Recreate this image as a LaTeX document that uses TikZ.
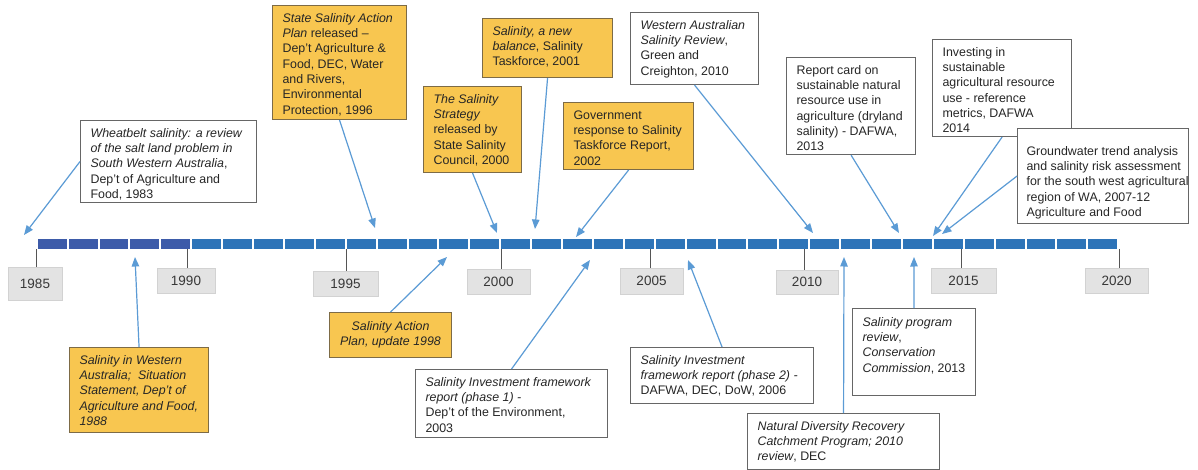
\documentclass[tikz,border=0pt]{standalone}
\usepackage{fontspec}
\setmainfont{Liberation Sans}
\usetikzlibrary{arrows.meta}
\definecolor{ybox}{HTML}{F8C650}
\definecolor{yline}{HTML}{7D6B46}
\definecolor{wline}{HTML}{666666}
\definecolor{txt}{HTML}{262626}
\definecolor{arrc}{HTML}{5B9BD5}
\definecolor{segdark}{HTML}{3D5BA9}
\definecolor{seglight}{HTML}{2E74B8}
\definecolor{yrfill}{HTML}{E3E3E3}
\definecolor{yrline}{HTML}{D2D2D2}
\definecolor{tickc}{HTML}{555555}
\newcommand\bxt[5]{\begin{minipage}[c][#2pt][t]{#1pt}\vspace*{#3pt}\hspace*{#4pt}\begin{tabular}[t]{@{}l@{}}#5\end{tabular}\end{minipage}}
\begin{document}
\begin{tikzpicture}[x=1pt,y=-1pt,
  font=\fontsize{12.4}{15.3}\selectfont,
  base/.style={draw, line width=1.1pt, inner sep=0pt, anchor=north west, text=txt},
  ybx/.style={base, fill=ybox, draw=yline},
  wbx/.style={base, fill=white, draw=wline},
  arr/.style={draw=arrc, line width=1.2pt, -{Triangle[length=9.5pt,width=7.5pt]}},
  yr/.style={fill=yrfill, draw=yrline, line width=0.6pt, text=black!78, font=\fontsize{13.5}{16}\selectfont, inner sep=0pt},
  tk/.style={draw=tickc, line width=0.9pt}]
\useasboundingbox (0,0) rectangle (1198,470);
\fill[white] (0,0) rectangle (1198,470);

% timeline segments
\foreach \i in {0,...,34}{
  \pgfmathsetmacro\xa{36.5+30.9*\i+1.2}
  \pgfmathsetmacro\xb{36.5+30.9*(\i+1)-0.8}
  \ifnum\i<5 \def\segcol{segdark}\else\def\segcol{seglight}\fi
  \fill[fill=\segcol] (\xa,239) rectangle (\xb,249);
}

% year labels and ticks
\foreach \yy/\xx in {1985/36,1990/187,1995/346,2000/501,2005/650,2010/804,2015/961,2020/1119}
  \coordinate (b\yy) at (\xx,249);
\node[yr, minimum width=54pt, minimum height=33pt] (y1985) at (35,283.5) {1985};
\node[yr, minimum width=58pt, minimum height=25pt] (y1990) at (186,280.5) {1990};
\node[yr, minimum width=65pt, minimum height=25pt] (y1995) at (345.5,283.5) {1995};
\node[yr, minimum width=63pt, minimum height=25pt] (y2000) at (498.5,281.5) {2000};
\node[yr, minimum width=63pt, minimum height=26pt] (y2005) at (651.5,281) {2005};
\node[yr, minimum width=62pt, minimum height=24pt] (y2010) at (807,282) {2010};
\node[yr, minimum width=65pt, minimum height=25pt] (y2015) at (963.5,280.5) {2015};
\node[yr, minimum width=63pt, minimum height=25pt] (y2020) at (1116.5,280.5) {2020};
\foreach \yy in {1985,1990,1995,2000,2005,2010,2015,2020}
  \draw[tk] (b\yy) -- (b\yy |- y\yy.north);

% upper boxes
\node[wbx] (wheat) at (80,120) {\bxt{176}{82}{6}{10}{\textit{Wheatbelt salinity: a review}\\ \textit{of the salt land problem in}\\ \textit{South Western Australia},\\ Dep’t of Agriculture and\\ Food, 1983}};
\node[ybx] (sap) at (272,5) {\bxt{134}{114}{6}{10}{\textit{State Salinity Action}\\ \textit{Plan} released --\\ Dep’t Agriculture \&\\ Food, DEC, Water\\ and Rivers,\\ Environmental\\ Protection, 1996}};
\node[ybx] (strat) at (423,86) {\bxt{98}{86}{6}{10}{\textit{The Salinity}\\ \textit{Strategy}\\ released by\\ State Salinity\\ Council, 2000}};
\node[ybx] (bal) at (482,18) {\bxt{130}{59}{6}{10}{\textit{Salinity, a new}\\ \textit{balance}, Salinity\\ Taskforce, 2001}};
\node[ybx] (gov) at (563,102) {\bxt{130}{67}{6}{10}{Government\\ response to Salinity\\ Taskforce Report,\\ 2002}};
\node[wbx] (war) at (630,12) {\bxt{128}{72}{6}{10}{\textit{Western Australian}\\ \textit{Salinity Review},\\ Green and\\ Creighton, 2010}};
\node[wbx] (rc) at (786,57) {\bxt{129}{97}{6}{10}{Report card on\\ sustainable natural\\ resource use in\\ agriculture (dryland\\ salinity) - DAFWA,\\ 2013}};
\node[wbx] (inv) at (932,39) {\bxt{139}{97}{6}{10}{Investing in\\ sustainable\\ agricultural resource\\ use - reference\\ metrics, DAFWA\\ 2014}};
\node[wbx] (gw) at (1017,128) {\bxt{171}{95}{16}{9}{Groundwater trend analysis\\ and salinity risk assessment\\ for the south west agricultural\\ region of WA, 2007-12\\ Agriculture and Food}};

% lower boxes
\node[ybx] (wa) at (69,347) {\bxt{139}{85}{6}{10}{\itshape Salinity in Western\\ \itshape Australia;~ Situation\\ \itshape Statement, Dep’t of\\ \itshape Agriculture and Food,\\ \itshape 1988}};
\node[ybx, minimum width=122pt, minimum height=45pt, align=center] (upd) at (329,312) {\textit{Salinity Action}\\ \textit{Plan, update 1998}};
\node[wbx] (ph1) at (415,369) {\bxt{192}{68}{6}{10}{\textit{Salinity Investment framework}\\ \textit{report (phase 1) -}\\ Dep’t of the Environment,\\ 2003}};
\node[wbx] (ph2) at (630,347) {\bxt{183}{56}{6}{10}{\textit{Salinity Investment}\\ \textit{framework report (phase 2) -}\\ DAFWA, DEC, DoW, 2006}};
\node[wbx] (prog) at (852,308) {\bxt{123}{87}{7}{10}{\textit{Salinity program}\\ \textit{review},\\ \textit{Conservation}\\ \textit{Commission}, 2013}};
\node[wbx] (nat) at (747,413) {\bxt{192}{56}{6}{10}{\textit{Natural Diversity Recovery}\\ \textit{Catchment Program; 2010}\\ \textit{review}, DEC}};

% arrow tips
\coordinate (twheat) at (24,235);
\coordinate (tsap) at (375,228);
\coordinate (tstrat) at (497,233);
\coordinate (tbal) at (535,229);
\coordinate (tgov) at (576,237);
\coordinate (twar) at (813,233);
\coordinate (trc) at (899,233);
\coordinate (tinv) at (933,236);
\coordinate (tgw) at (942,234);
\coordinate (twa) at (135,257);
\coordinate (tupd) at (447,257);
\coordinate (tph1) at (590,260);
\coordinate (tph2) at (688,260);
\coordinate (tnat) at (844,257);
\coordinate (tprog) at (914,257);

\draw[arr] (wheat.west) -- (twheat);
\draw[arr] (sap.south) -- (tsap);
\draw[arr] (strat.south) -- (tstrat);
\draw[arr] (bal.south) -- (tbal);
\draw[arr] (gov.south) -- (tgov);
\draw[arr] (war.south) -- (twar);
\draw[arr] (rc.south) -- (trc);
\draw[arr] (inv.south) -- (tinv);
\draw[arr] (gw.west) -- (tgw);
\draw[arr] (wa.north) -- (twa);
\draw[arr] (upd.north) -- (tupd);
\draw[arr] (ph1.north) -- (tph1);
\draw[arr] (ph2.north) -- (tph2);
\draw[arr] (nat.north) -- (tnat);
\draw[arr] (prog.north) -- (tprog);
\end{tikzpicture}
\end{document}
